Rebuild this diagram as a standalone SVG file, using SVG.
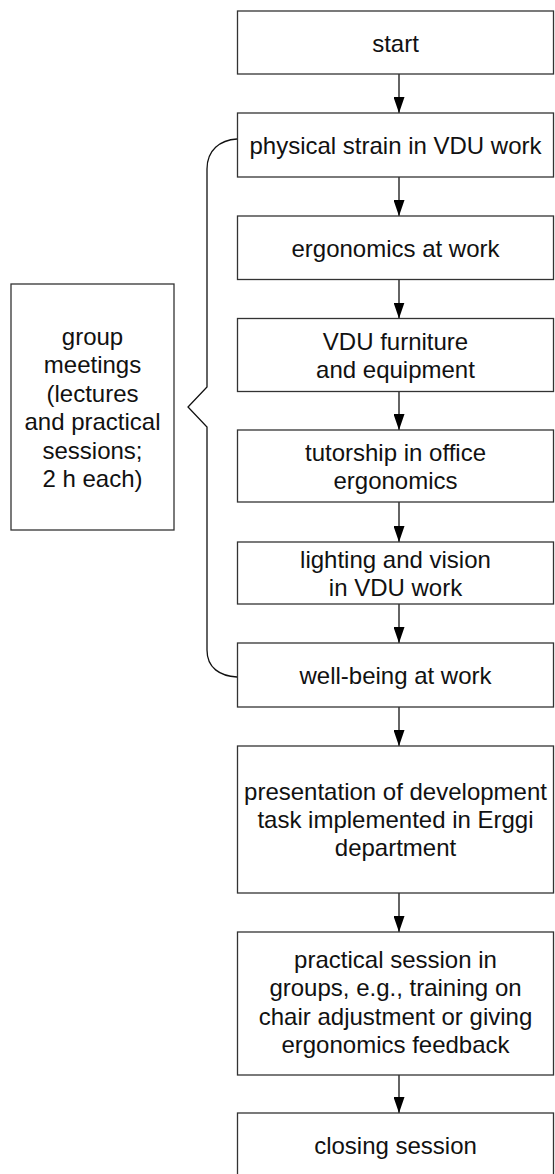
<svg xmlns="http://www.w3.org/2000/svg" width="555" height="1174" viewBox="0 0 555 1174">
<defs>
<style>
.box{fill:#fff;stroke:#333;stroke-width:1.3}
.t{font-family:"Liberation Sans",Arial,sans-serif;font-size:24px;fill:#111;text-anchor:middle}
.c{fill:none;stroke:#111;stroke-width:1.3}
</style>
<marker id="ah" markerUnits="userSpaceOnUse" markerWidth="16" markerHeight="11" refX="16" refY="5.5" orient="auto" viewBox="0 0 16 11">
<path d="M0,0 L16,5.5 L0,11 Z" fill="#000"/>
</marker>
</defs>
<g id="connectors">
<path class="c" d="M399,74 V113" marker-end="url(#ah)"/>
<path class="c" d="M399,177 V216" marker-end="url(#ah)"/>
<path class="c" d="M399,279.5 V318.5" marker-end="url(#ah)"/>
<path class="c" d="M399,391.5 V430" marker-end="url(#ah)"/>
<path class="c" d="M399,502 V542" marker-end="url(#ah)"/>
<path class="c" d="M399,604 V643" marker-end="url(#ah)"/>
<path class="c" d="M399,707 V746" marker-end="url(#ah)"/>
<path class="c" d="M399,893 V932" marker-end="url(#ah)"/>
<path class="c" d="M399,1075 V1113" marker-end="url(#ah)"/>
<path id="bracket" class="c" d="M237,139 C220,140 207,150 207,169 L207,387 L188,407 L207,427 L207,650 C207,668 220,676 237,677"/>
</g>
<g id="start"><rect class="box" x="237.5" y="11" width="316" height="63"/><text class="t" x="395.5" y="51.5">start</text></g>
<g id="physical"><rect class="box" x="237.5" y="113" width="316" height="64"/><text class="t" x="395.5" y="153.5">physical strain in VDU work</text></g>
<g id="ergonomics"><rect class="box" x="237.5" y="216" width="316" height="63.5"/><text class="t" x="395.5" y="256.5">ergonomics at work</text></g>
<g id="furniture"><rect class="box" x="237.5" y="318.5" width="316" height="73"/><text class="t" x="395.5" y="350">VDU furniture</text><text class="t" x="395.5" y="378">and equipment</text></g>
<g id="tutorship"><rect class="box" x="237.5" y="430" width="316" height="72"/><text class="t" x="395.5" y="461">tutorship in office</text><text class="t" x="395.5" y="489">ergonomics</text></g>
<g id="lighting"><rect class="box" x="237.5" y="542" width="316" height="62"/><text class="t" x="395.5" y="568">lighting and vision</text><text class="t" x="395.5" y="596">in VDU work</text></g>
<g id="wellbeing"><rect class="box" x="237.5" y="643" width="316" height="64"/><text class="t" x="395.5" y="683.5">well-being at work</text></g>
<g id="presentation"><rect class="box" x="237.5" y="746" width="316" height="147"/><text class="t" x="395.5" y="800">presentation of development</text><text class="t" x="395.5" y="828">task implemented in Erggi</text><text class="t" x="395.5" y="856">department</text></g>
<g id="practical"><rect class="box" x="237.5" y="932" width="316" height="143"/><text class="t" x="395.5" y="967.5">practical session in</text><text class="t" x="395.5" y="996">groups, e.g., training on</text><text class="t" x="395.5" y="1024.5">chair adjustment or giving</text><text class="t" x="395.5" y="1053">ergonomics feedback</text></g>
<g id="closing"><rect class="box" x="237.5" y="1113" width="316" height="64"/><text class="t" x="395.5" y="1153.5">closing session</text></g>
<g id="group"><rect class="box" x="11" y="284" width="163" height="246"/><text class="t" x="92.5" y="344.5">group</text><text class="t" x="92.5" y="373">meetings</text><text class="t" x="92.5" y="401.5">(lectures</text><text class="t" x="92.5" y="430">and practical</text><text class="t" x="92.5" y="458.5">sessions;</text><text class="t" x="92.5" y="487">2 h each)</text></g>
</svg>
